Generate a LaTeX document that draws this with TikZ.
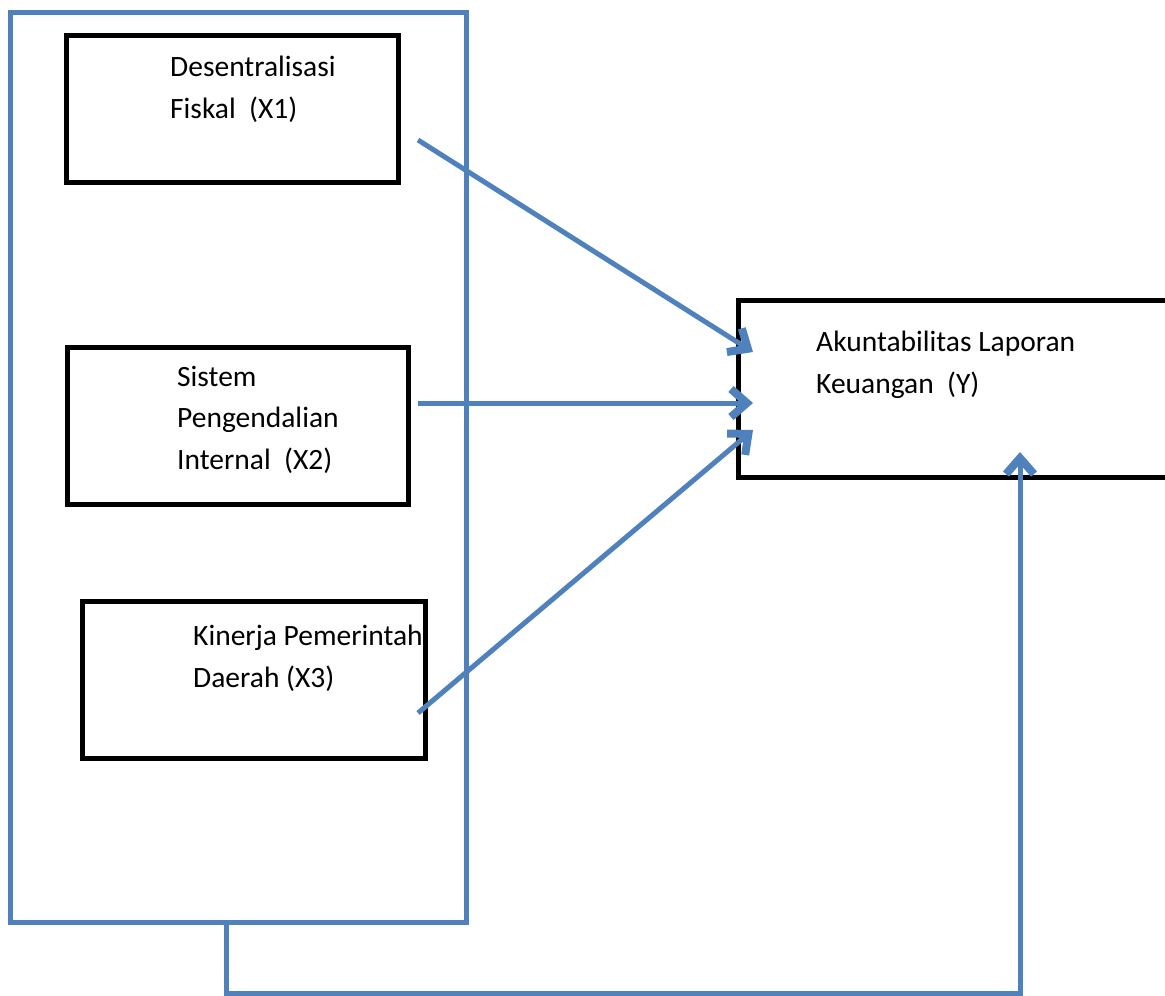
\documentclass[tikz,border=0pt]{standalone}
\usepackage{fontspec}
\setmainfont{Carlito}
\usepackage{xcolor}
\usepackage{tikz}
\usetikzlibrary{
  arrows.meta
}
\definecolor{wordblue}{HTML}{4F81BD}

\begin{document}
\begin{tikzpicture}[
        x=1pt,y=-1pt,
        varbox/.style={
            draw=black,
            line width=5pt,
            rectangle,
            inner sep=0pt,
            outer sep=0pt,
            anchor=north west
          },bluebox/.style={
            draw=wordblue,
            line width=5pt,
            rectangle,
            inner sep=0pt,
            outer sep=0pt,
            anchor=north west
          },boxtext/.style={
            anchor=base west,
            inner sep=0pt,
            align=left,
            font=\fontsize{29.5}{41.5}\selectfont
          },link/.style={
            draw=wordblue,
            line width=5pt,
            -{Straight Barb[length=16pt,width=28pt,line width=0pt 1.6]}
          }
      ]
      \useasboundingbox (0,0) rectangle (1165,996);

      % 外枠 (X1, X2, X3)
      \node[bluebox, minimum width=456pt, minimum height=910pt] (outer_frame) at (10,12) {};

      % 変数の箱
      \node[varbox, minimum width=332pt, minimum height=147pt] (box_x1) at (66,35) {};
      \node[varbox, minimum width=341pt, minimum height=157pt] (box_x2) at (67,347) {};
      \node[varbox, minimum width=343pt, minimum height=157pt] (box_x3) at (82,601) {};
      \node[varbox, minimum width=440pt, minimum height=177pt] (box_y) at (738,300) {};

      % 箱の中の文字 (最終行のベースライン)
      \node[boxtext] (text_x1) at (170,118) {Desentralisasi\\Fiskal\ \ (X1)};
      \node[boxtext] (text_x2) at (177,469) {Sistem\\Pengendalian\\Internal\ \ (X2)};
      \node[boxtext] (text_x3) at (193,687) {Kinerja Pemerintah\\Daerah (X3)};
      \node[boxtext] (text_y) at (816,393) {Akuntabilitas Laporan\\Keuangan\ \ (Y)};

      % 矢印の端点
      \coordinate (x1_out) at (418,140);
      \coordinate (x2_out) at (418,403);
      \coordinate (x3_out) at (418,713);
      \coordinate (y_in1) at (753,352);
      \coordinate (y_in2) at (753,403);
      \coordinate (y_in3) at (753,430);
      \coordinate (y_in4) at (1020,452);

      % 矢印
      \draw[link] (x1_out) -- (y_in1);
      \draw[link] (x2_out) -- (y_in2);
      \draw[link] (x3_out) -- (y_in3);
      \draw[link] ([xshift=-12pt]outer_frame.south) -- ++(0,71) -| (y_in4);

    \end{tikzpicture}
\end{document}
